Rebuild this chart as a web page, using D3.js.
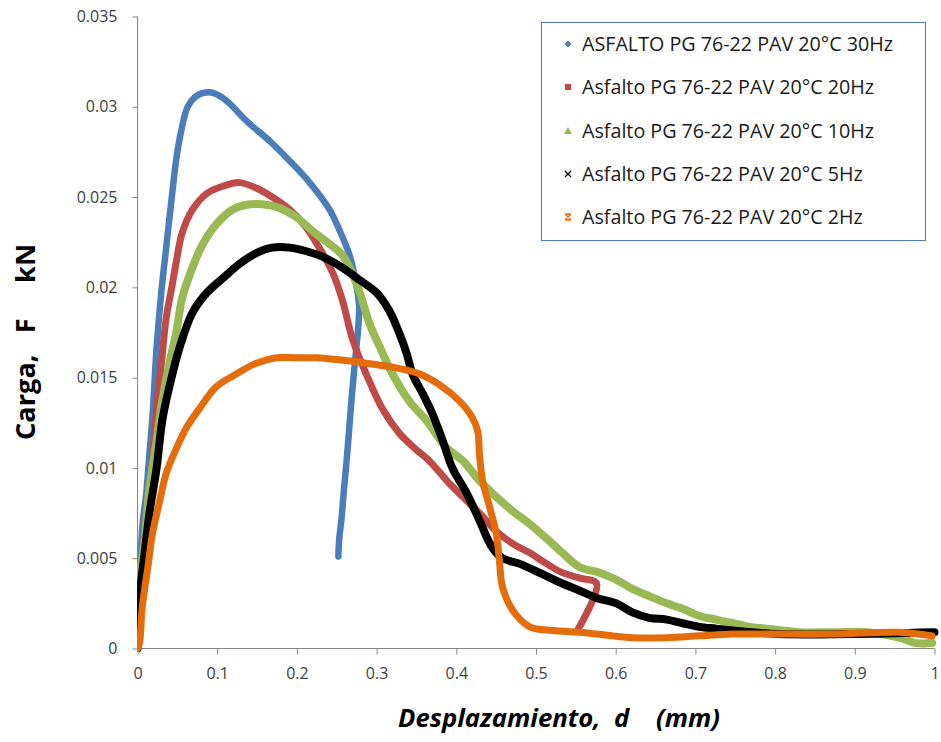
<!DOCTYPE html>
<html><head><meta charset="utf-8">
<script src="https://cdn.jsdelivr.net/npm/d3@7"></script>
<style>
html,body{margin:0;padding:0;background:#fff;}
svg{display:block;}
text{font-family:"Open Sans",Lato,"Liberation Sans",sans-serif;}
</style></head>
<body>
<svg id="chart" width="941" height="742"></svg>
<script>
// ---------- data ----------
const seriesNames = [
  "ASFALTO PG 76-22 PAV 20°C 30Hz",
  "Asfalto PG 76-22 PAV 20°C 20Hz",
  "Asfalto PG 76-22 PAV 20°C 10Hz",
  "Asfalto PG 76-22 PAV 20°C 5Hz",
  "Asfalto PG 76-22 PAV 20°C 2Hz"
];
const seriesColors = ["#4a7ebb", "#be4b48", "#98b954", "#000000", "#e46c0a"];
const seriesMarkers = ["diamond", "square", "triangle", "cross", "star"];

const xTicks = [0,0.1,0.2,0.3,0.4,0.5,0.6,0.7,0.8,0.9,1];
const xTickLabels = ["0","0.1","0.2","0.3","0.4","0.5","0.6","0.7","0.8","0.9","1"];
const yTicks = [0,0.005,0.01,0.015,0.02,0.025,0.03,0.035];
const yTickLabels = ["0","0.005","0.01","0.015","0.02","0.025","0.03","0.035"];

// 30 Hz
const d30x = [0,0.006,0.011,0.015,0.019,0.024,0.030,0.036,0.043,0.049,0.055,0.063,0.074,0.090,0.103,0.115,0.137,0.166,0.191,0.216,0.241,0.257,0.266,0.273,0.278,0.277,0.274,0.271,0.268,0.265,0.262,0.259,0.256,0.253,0.252];
const d30y = [0,0.0067,0.0086,0.0108,0.0130,0.0167,0.0198,0.0222,0.0250,0.0272,0.0287,0.0300,0.0306,0.0308,0.0306,0.0302,0.0292,0.0281,0.0270,0.0258,0.0243,0.0228,0.0218,0.0205,0.0190,0.0178,0.0164,0.0150,0.0135,0.0118,0.0102,0.0088,0.0072,0.0060,0.0051];
// 20 Hz
const d20x = [0,0.0025,0.005,0.011,0.018,0.024,0.030,0.036,0.043,0.049,0.056,0.069,0.087,0.107,0.128,0.149,0.169,0.191,0.212,0.228,0.245,0.257,0.270,0.287,0.307,0.329,0.350,0.366,0.388,0.408,0.429,0.450,0.471,0.492,0.513,0.533,0.555,0.576,0.552];
const d20y = [0,0.0010,0.0043,0.0075,0.0102,0.0133,0.0158,0.0183,0.0200,0.0215,0.0230,0.0243,0.0252,0.0256,0.0258,0.0255,0.0250,0.0243,0.0233,0.0222,0.0208,0.0193,0.0171,0.0152,0.0133,0.0119,0.0110,0.0104,0.0093,0.0084,0.0075,0.0065,0.0058,0.0053,0.0047,0.0042,0.0039,0.0036,0.0010];
// 10 Hz
const d10x = [0,0.0025,0.009,0.015,0.024,0.031,0.040,0.049,0.056,0.069,0.082,0.099,0.119,0.141,0.157,0.178,0.199,0.220,0.241,0.257,0.266,0.279,0.291,0.304,0.320,0.341,0.363,0.388,0.408,0.429,0.450,0.471,0.492,0.513,0.533,0.555,0.580,0.601,0.621,0.642,0.664,0.684,0.705,0.726,0.747,0.768,0.789,0.809,0.831,0.872,0.915,0.956,0.977,0.997];
const d10y = [0,0.0038,0.0060,0.0089,0.0115,0.0137,0.0158,0.0176,0.0194,0.0211,0.0224,0.0235,0.0243,0.0246,0.0246,0.0244,0.0239,0.0231,0.0224,0.0218,0.0211,0.0197,0.0180,0.0167,0.0152,0.0137,0.0126,0.0111,0.0104,0.0093,0.0084,0.0076,0.0069,0.0061,0.0053,0.0045,0.0042,0.0038,0.0033,0.0029,0.0025,0.0022,0.0018,0.0016,0.0014,0.0012,0.0011,0.0010,0.0009,0.0009,0.0009,0.0006,0.0003,0.0003];
// 5 Hz
const d5x = [0,0.0025,0.009,0.015,0.024,0.031,0.040,0.053,0.069,0.087,0.107,0.128,0.149,0.169,0.191,0.212,0.232,0.253,0.279,0.300,0.316,0.329,0.338,0.345,0.358,0.370,0.383,0.395,0.413,0.429,0.445,0.458,0.479,0.504,0.533,0.555,0.576,0.601,0.621,0.642,0.664,0.684,0.705,0.726,0.747,0.805,0.893,1.0];
const d5y = [0,0.0028,0.0053,0.0075,0.0100,0.0126,0.0145,0.0167,0.0186,0.0197,0.0205,0.0213,0.0219,0.0222,0.0222,0.0220,0.0217,0.0212,0.0204,0.0197,0.0187,0.0174,0.0163,0.0152,0.0141,0.0130,0.0115,0.0100,0.0086,0.0071,0.0056,0.0050,0.0047,0.0042,0.0036,0.0032,0.0028,0.0025,0.0020,0.0017,0.0016,0.0014,0.0012,0.0011,0.0010,0.0008,0.0008,0.0009];
// 2 Hz
const d2x = [0,0.0025,0.006,0.013,0.019,0.028,0.036,0.049,0.061,0.078,0.099,0.124,0.149,0.174,0.199,0.225,0.250,0.287,0.329,0.354,0.379,0.404,0.420,0.427,0.429,0.433,0.442,0.450,0.454,0.458,0.471,0.492,0.521,0.555,0.596,0.621,0.664,0.705,0.747,0.789,0.872,0.956,0.997];
const d2y = [0,0.0003,0.0023,0.0045,0.0064,0.0082,0.0097,0.0111,0.0122,0.0133,0.0145,0.0152,0.0158,0.0161,0.0161,0.0161,0.0160,0.0158,0.0155,0.0152,0.0146,0.0137,0.0128,0.0120,0.0108,0.0093,0.0078,0.0064,0.0049,0.0034,0.0021,0.0012,0.0010,0.0009,0.0007,0.0006,0.0006,0.0007,0.0008,0.0008,0.0008,0.0009,0.0007];

const seriesX = [d30x, d20x, d10x, d5x, d2x];
const seriesY = [d30y, d20y, d10y, d5y, d2y];

// ---------- layout ----------
const svg = d3.select("#chart");
const x = d3.scaleLinear().domain([0, 1]).range([137.5, 934.5]);
const y = d3.scaleLinear().domain([0, 0.035]).range([648.5, 16.5]);
const axisColor = "#868686";
const labelColor = "#404040";

// fit a text element's width to a target by adjusting font size
function fitWidth(sel, target) {
  const fs = parseFloat(sel.style("font-size"));
  const w = sel.node().getComputedTextLength();
  if (w > 0) sel.style("font-size", (fs * target / w).toFixed(2) + "px");
  return sel;
}

// axes
const yAxis = svg.append("g").attr("transform", "translate(137.5,0)")
  .call(d3.axisLeft(y).tickValues(yTicks).tickFormat((d,i) => yTickLabels[i]).tickSize(5).tickPadding(15));
const xAxis = svg.append("g").attr("transform", "translate(0,648.5)")
  .call(d3.axisBottom(x).tickValues(xTicks).tickFormat((d,i) => xTickLabels[i]).tickSize(6).tickPadding(13));
[yAxis, xAxis].forEach(g => {
  g.select(".domain").attr("stroke", axisColor).attr("stroke-width", 1);
  g.selectAll(".tick line").attr("stroke", axisColor);
  g.selectAll(".tick text").attr("fill", labelColor).style("font-size", "16px")
    .style("font-family", "'Open Sans',Lato,sans-serif");
});
yAxis.select(".domain").attr("d", "M0,648.5V16.5");
xAxis.select(".domain").attr("d", "M137.5,0H934.5");

// series
svg.append("defs").append("clipPath").attr("id", "clipArea")
  .append("rect").attr("x", 137).attr("y", 10).attr("width", 804).attr("height", 642);
const plot = svg.append("g").attr("clip-path", "url(#clipArea)");
const line = d3.line().x(d => x(d[0])).y(d => y(d[1])).curve(d3.curveCatmullRom.alpha(0.5));
const widths = [6.5, 7, 8, 8, 7];
seriesX.forEach((xs, i) => {
  const pts = xs.map((v, j) => [v, seriesY[i][j]]);
  plot.append("path").datum(pts).attr("d", line)
    .attr("fill", "none").attr("stroke", seriesColors[i])
    .attr("stroke-width", widths[i]).attr("stroke-linejoin", "round").attr("stroke-linecap", "round");
});

// legend
const lg = svg.append("g");
lg.append("rect").attr("x", 541.5).attr("y", 22.5).attr("width", 384).attr("height", 218)
  .attr("fill", "#fff").attr("stroke", "#4a7ebb").attr("stroke-width", 1);
function marker(g, type, cx, cy, color) {
  if (type === "diamond") g.append("path").attr("d", `M${cx},${cy-3.5}L${cx+3.5},${cy}L${cx},${cy+3.5}L${cx-3.5},${cy}Z`).attr("fill", color);
  else if (type === "square") g.append("rect").attr("x", cx-3).attr("y", cy-3).attr("width", 6).attr("height", 6).attr("fill", color);
  else if (type === "triangle") g.append("path").attr("d", `M${cx},${cy-4}L${cx+4},${cy+3}L${cx-4},${cy+3}Z`).attr("fill", color);
  else if (type === "cross") g.append("path").attr("d", `M${cx-3},${cy-3}L${cx+3},${cy+3}M${cx+3},${cy-3}L${cx-3},${cy+3}`).attr("stroke", color).attr("stroke-width", 1.3);
  else g.append("path").attr("d", `M${cx-3},${cy-3}L${cx+3},${cy+3}M${cx+3},${cy-3}L${cx-3},${cy+3}M${cx-3},${cy-3}H${cx+3}M${cx-3},${cy+3}H${cx+3}`).attr("stroke", color).attr("stroke-width", 1.3);
}
const legendY = [44, 87, 131, 174, 217];
const legendTexts = seriesNames.map((name, i) => {
  marker(lg, seriesMarkers[i], 568, legendY[i], seriesColors[i]);
  return lg.append("text").attr("x", 582).attr("y", legendY[i]).attr("dy", "0.36em")
    .attr("fill", "#1a1a1a").style("font-size", "16px").text(name);
});
// scale legend font so the first entry matches the reference width
fitWidth(legendTexts[0], 311);
const lfs = legendTexts[0].style("font-size");
legendTexts.forEach(t => t.style("font-size", lfs));

// axis titles
const yTitle = svg.append("text").attr("transform", "translate(35,342) rotate(-90)")
  .attr("text-anchor", "middle").attr("fill", "#000")
  .style("font-size", "24px").style("font-weight", "bold").style("white-space", "pre")
  .text("Carga,   F     kN");
fitWidth(yTitle, 196);
const xTitle = svg.append("text").attr("x", 559).attr("y", 727)
  .attr("text-anchor", "middle").attr("fill", "#000")
  .style("font-size", "22px").style("font-weight", "bold").style("font-style", "italic").style("white-space", "pre")
  .text("Desplazamiento,  d    (mm)");
fitWidth(xTitle, 322);
</script>
</body></html>
